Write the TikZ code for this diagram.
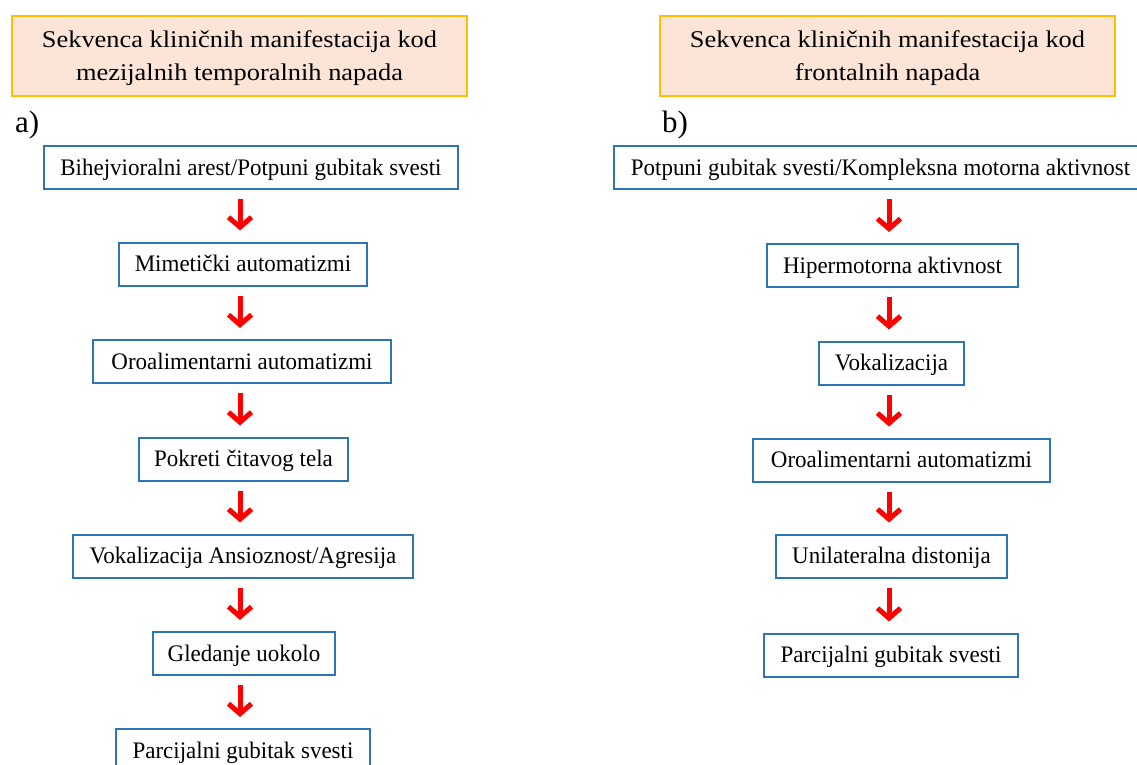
\documentclass[tikz,border=0pt]{standalone}
\usepackage{fontspec}
\setmainfont{Liberation Serif}
\newfontfamily\titlefont[FakeStretch=1.1]{Liberation Serif}
\newfontfamily\boxfont[FakeStretch=0.97]{Liberation Serif}
\usetikzlibrary{arrows.meta,calc}
\definecolor{boxblue}{HTML}{2E75B6}
\definecolor{titlefill}{HTML}{FCE4D6}
\definecolor{titleedge}{HTML}{FFC000}
\tikzset{
  stepbox/.style={draw=boxblue, line width=2pt, fill=white, minimum height=43pt, inner sep=0pt, text height=15.7pt, text depth=0pt, font=\boxfont\fontsize{23.7}{28}\selectfont},
  titlebox/.style={draw=titleedge, line width=2pt, fill=titlefill, minimum width=455pt, minimum height=80pt, inner sep=0pt, align=center, text height=49.5pt, text depth=0pt, font=\titlefont\fontsize{24}{33}\selectfont},
  panel/.style={anchor=west, inner sep=0pt, font=\fontsize{31}{36}\selectfont},
  flow/.style={draw=red, line width=5pt, -{Straight Barb[length=10pt,width=23pt]}},
}
\begin{document}
\begin{tikzpicture}[x=1pt,y=-1pt]
\useasboundingbox (0,0) rectangle (1137,765);
\clip (0,0) rectangle (1137,765);
\coordinate (lx) at (240,0);
\coordinate (rx) at (889,0);
% titles
\node[titlebox] (t1) at (239.5,56) {Sekvenca kliničnih manifestacija kod\\mezijalnih temporalnih napada};
\node[titlebox] (t2) at (887.5,56) {Sekvenca kliničnih manifestacija kod\\frontalnih napada};
\node[panel] (pa) at (15,125) {a)};
\node[panel] (pb) at (662,125) {b)};
% left column
\node[stepbox, minimum width=414pt] (a1) at (251,167.5) {Bihejvioralni arest/Potpuni gubitak svesti};
\node[stepbox, minimum width=248pt] (a2) at (243,264) {Mimetički automatizmi};
\node[stepbox, minimum width=298pt] (a3) at (242,361.5) {Oroalimentarni automatizmi\hspace{6pt}};
\node[stepbox, minimum width=209pt] (a4) at (243.5,459) {Pokreti čitavog tela};
\node[stepbox, minimum width=340pt] (a5) at (243,556) {Vokalizacija Ansioznost/Agresija};
\node[stepbox, minimum width=182pt] (a6) at (244,653.5) {Gledanje uokolo};
\node[stepbox, minimum width=254pt] (a7) at (243,750.5) {Parcijalni gubitak svesti};
% right column
\node[stepbox, minimum width=533pt] (b1) at (880.5,167.5) {Potpuni gubitak svesti/Kompleksna motorna aktivnost};
\node[stepbox, minimum width=251pt] (b2) at (892.5,265.5) {Hipermotorna aktivnost};
\node[stepbox, minimum width=145pt] (b3) at (891.5,363) {Vokalizacija};
\node[stepbox, minimum width=297pt] (b4) at (901.5,460) {Oroalimentarni automatizmi\hspace{8pt}};
\node[stepbox, minimum width=231pt] (b5) at (891.5,556) {Unilateralna distonija};
\node[stepbox, minimum width=254pt] (b6) at (891,655) {Parcijalni gubitak svesti};
% arrows
\foreach \u/\v in {a1/a2,a2/a3,a3/a4,a4/a5,a5/a6,a6/a7}{
  \draw[flow] ($(\u.south -| lx)+(0,9)$) -- ($(\v.north -| lx)+(0,-11)$);
}
\foreach \u/\v in {b1/b2,b2/b3,b3/b4,b4/b5,b5/b6}{
  \draw[flow] ($(\u.south -| rx)+(0,9)$) -- ($(\v.north -| rx)+(0,-11)$);
}
\end{tikzpicture}
\end{document}
